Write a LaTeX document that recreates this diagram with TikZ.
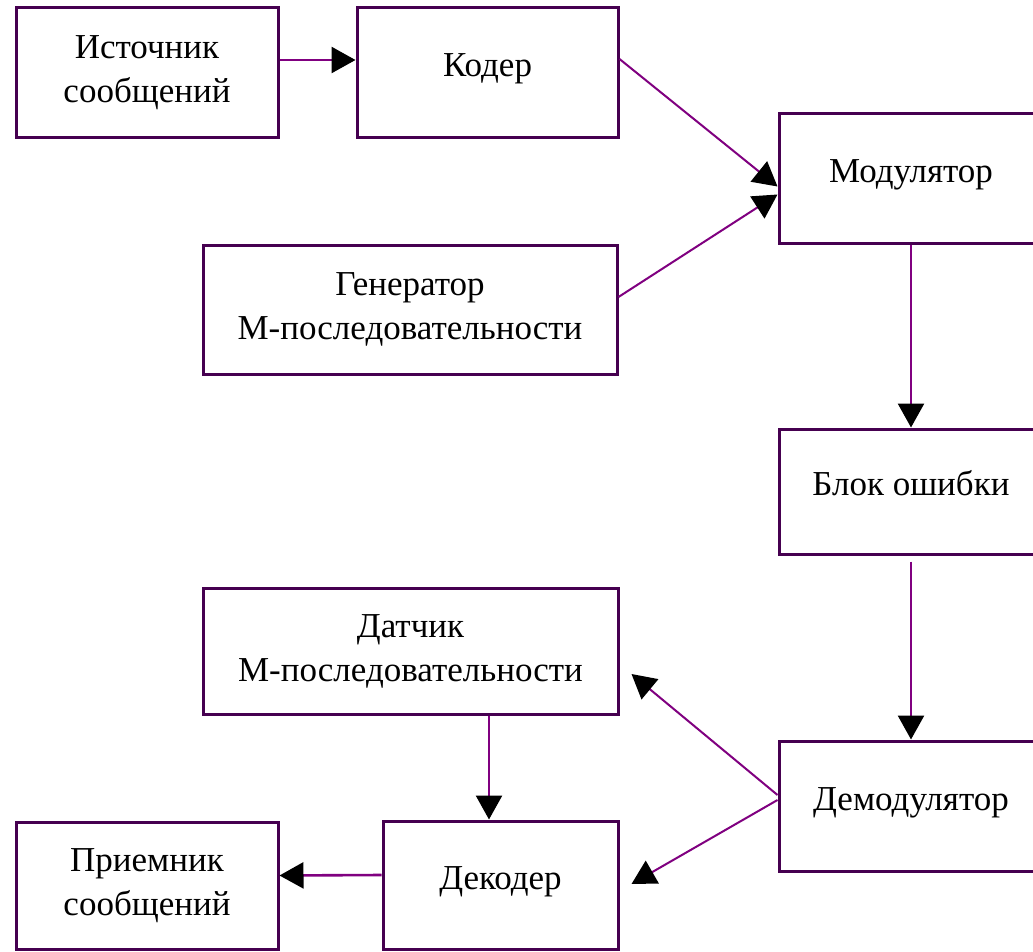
\documentclass[tikz,border=0pt]{standalone}
\usepackage{fontspec}
\setmainfont{Liberation Serif}
\usetikzlibrary{arrows.meta}
\definecolor{boxc}{RGB}{70,0,80}
\definecolor{linec}{RGB}{128,0,128}
\begin{document}
\begin{tikzpicture}[x=1pt,y=-1pt,
  box/.style={draw=boxc, line width=3pt, fill=white, rectangle, inner sep=0pt, align=center, font=\fontsize{35}{44}\selectfont},
  oneline/.style={text height=23pt, text depth=15pt},
  conn/.style={draw=linec, line width=2.6pt, -{Triangle[length=24pt,width=26pt,color=black]}},
  diag/.style={conn, line width=2pt}]
\useasboundingbox (0,0) rectangle (1033,952);
\clip (0,0) rectangle (1033,952);
\fill[white] (0,0) rectangle (1033,952);
% boxes
\node[box, minimum width=262pt, minimum height=130pt] (ist) at (147,73) {Источник\\сообщений};
\node[box, oneline, minimum width=261pt, minimum height=130pt] (kod) at (487.5,73) {Кодер};
\node[box, oneline, minimum width=264pt, minimum height=129pt] (mod) at (911,178.5) {Модулятор};
\node[box, minimum width=414pt, minimum height=129pt] (gen) at (410,309.5) {Генератор\\М-последовательности};
\node[box, oneline, minimum width=264pt, minimum height=125pt] (blk) at (911,491.5) {Блок ошибки};
\node[box, minimum width=415pt, minimum height=126pt] (dat) at (410.5,651) {Датчик\\М-последовательности};
\node[box, oneline, minimum width=264pt, minimum height=130pt] (dem) at (911,806) {Демодулятор};
\node[box, minimum width=262pt, minimum height=127pt] (pri) at (147,885.5) {Приемник\\сообщений};
\node[box, oneline, minimum width=235pt, minimum height=128pt] (dek) at (500.5,885) {Декодер};
\coordinate (vx) at (489,0);
% connectors
\draw[conn] ([yshift=13pt]ist.east) -- ([yshift=13pt]kod.west);
\draw[diag] ([yshift=14pt]kod.east) -- ([yshift=-8pt]mod.west);
\draw[diag] ([yshift=12.5pt]gen.east) -- ([yshift=-16pt]mod.west);
\draw[conn] (mod.south) -- (blk.north);
\draw[conn] ([yshift=-6pt]blk.south) -- (dem.north);
\draw[diag] ([yshift=11pt]dem.west) -- ([xshift=12pt,yshift=-23pt]dat.east);
\draw[diag] ([yshift=6pt]dem.west) -- ([xshift=12pt,yshift=1pt]dek.east);
\draw[conn] (dat.south -| vx) -- (dek.north -| vx);
\draw[conn] ([yshift=10pt]dek.west) -- ([yshift=10pt]pri.east);
\end{tikzpicture}
\end{document}
